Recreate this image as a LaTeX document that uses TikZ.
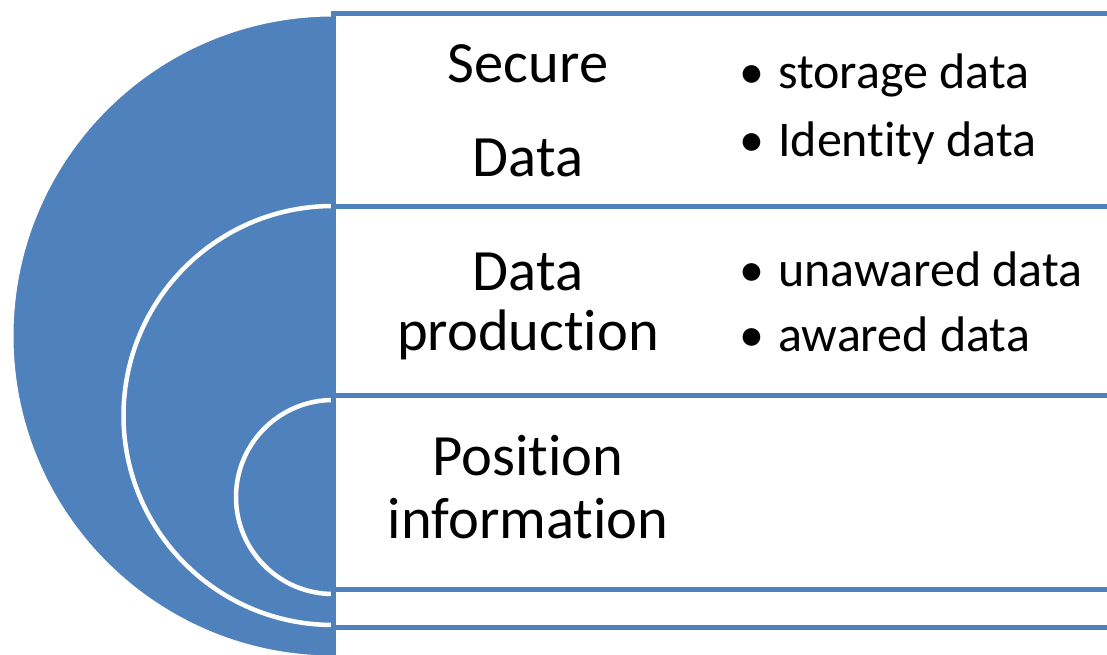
\documentclass[tikz,border=0pt]{standalone}
\usepackage{fontspec}
\setmainfont{Carlito}[RawFeature={-liga;-clig}]
\definecolor{accent}{HTML}{4F81BD}
\begin{document}
\begin{tikzpicture}[x=1pt,y=-1pt,
  title/.style={anchor=base,inner sep=0pt,font=\fontsize{58.5}{60}\selectfont},
  item/.style={anchor=base west,inner sep=0pt,font=\fontsize{50}{52}\selectfont},
  bul/.style={anchor=base,inner sep=0pt,font=\fontsize{50}{52}\selectfont},
  rule/.style={draw=accent,line width=5pt},
  ring/.style={draw=white,line width=4.5pt}]
\useasboundingbox (0,0) rectangle (1107,655);
\clip (0,0) rectangle (1107,655);
% outer half disc
\fill[accent,draw=white,line width=1pt] (333,16) arc[start angle=270,end angle=90,radius=320] -- cycle;
% inner rings
\draw[ring] (333,206) arc[start angle=270,end angle=90,radius=209.5];
\draw[ring] (333,400) arc[start angle=270,end angle=90,radius=97];
% frame lines
\draw[rule] (333,13.5) -- (1110,13.5);
\draw[rule] (333,206.5) -- (1110,206.5);
\draw[rule] (333,395.5) -- (1110,395.5);
\draw[rule] (333,589.5) -- (1110,589.5);
\draw[rule] (333,627.5) -- (1110,627.5);
\draw[rule] (333,11) -- (333,660);
% titles
\node[title] (t1a) at (528,83) {Secure};
\node[title] (t1b) at (528,176) {Data};
\node[title] (t2a) at (528,290) {Data};
\node[title] (t2b) at (528,350) {production};
\node[title] (t3a) at (528,475) {Position};
\node[title] (t3b) at (528,538) {information};
% bullets
\node[bul] (b1) at (752,89) {•};
\node[item] (i1) at (778,89) {storage data};
\node[bul] (b2) at (752,157) {•};
\node[item] (i2) at (778,157) {Identity data};
\node[bul] (b3) at (752,286) {•};
\node[item] (i3) at (778,286) {unawared data};
\node[bul] (b4) at (752,351) {•};
\node[item] (i4) at (778,351) {awared data};
\end{tikzpicture}
\end{document}
